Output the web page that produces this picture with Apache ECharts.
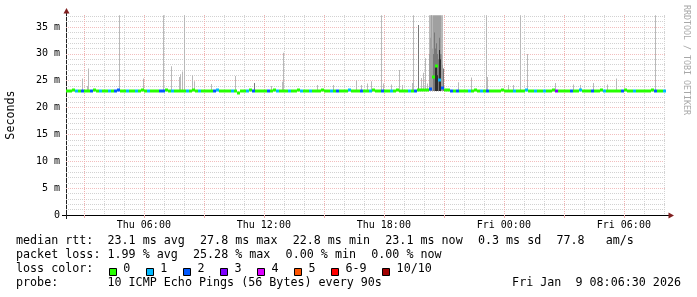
<!DOCTYPE html>
<html><head><meta charset="utf-8">
<script src="https://cdn.jsdelivr.net/npm/echarts@6/dist/echarts.min.js"></script>
<style>html,body{margin:0;padding:0;background:#fff}#c{width:697px;height:297px}</style>
</head><body><div id="c"></div>
<script>
// ---- time frame (hours since Thu 00:00) ----
const startHour = 2 + 6.5 / 60;        // Thu 02:06:30
const endHour = startHour + 30;        // Fri 08:06:30
const stepHours = 0.15;                // 9-minute median samples

// ---- median RTT (ms), one value per 9-minute step ----
const medianRtt = [
  23.1,23.1,23.2,23.1,23.1,23.1,23.0,23.1,23.1,23.2, 23.1,23.1,23.1,23.0,23.1,23.1,23.1,23.2,23.1,23.1,
  23.1,23.0,23.1,23.1,23.1,23.2,23.1,23.1,23.0,23.1, 23.1,23.1,23.1,23.2,23.1,23.0,23.1,23.1,23.1,23.1,
  23.1,23.1,23.2,23.1,23.1,23.0,23.1,23.1,23.1,23.1, 23.2,23.1,23.1,23.1,23.0,23.1,23.1,22.8,23.1,23.1,
  23.1,23.2,23.1,23.1,23.0,23.1,23.1,23.1,23.1,23.2, 23.1,23.1,23.0,23.1,23.1,23.1,23.1,23.2,23.1,23.1,
  23.1,23.0,23.1,23.1,23.1,23.2,23.1,23.1,23.1,23.0, 23.1,23.1,23.1,23.1,23.2,23.1,23.1,23.0,23.1,23.1,
  23.1,23.1,23.2,23.1,23.1,23.1,23.0,23.1,23.1,23.1, 23.2,23.1,23.1,23.1,23.1,23.0,23.1,23.2,23.3,23.2,
  23.3,23.4,25.7,27.8,25.1,23.6,23.3,23.2,23.1,23.1, 23.0,23.1,23.1,23.1,23.1,23.1,23.2,23.1,23.1,23.1,
  23.0,23.1,23.1,23.1,23.1,23.2,23.1,23.1,23.1,23.0, 23.1,23.1,23.1,23.2,23.1,23.1,23.1,23.1,23.0,23.1,
  23.1,23.1,23.2,23.1,23.1,23.1,23.0,23.1,23.1,23.1, 23.1,23.2,23.1,23.0,23.1,23.1,23.1,23.1,23.2,23.1,
  23.1,23.1,23.0,23.1,23.1,23.1,23.2,23.1,23.1,23.1, 23.0,23.1,23.1,23.1,23.1,23.2,23.1,23.0,23.1,23.1
];
// ---- lost pings (of 10) per step ----
const lossCount = [
  0,0,0,1,0,2,0,0,2,0, 0,1,0,0,1,0,2,2,0,0,
  1,0,0,1,0,0,0,1,0,0, 0,2,2,0,0,1,0,0,0,0,
  1,0,0,0,1,0,0,0,0,2, 1,0,0,0,0,1,0,0,0,0,
  1,0,2,0,0,0,0,2,0,0, 1,0,0,0,1,0,0,0,1,0,
  0,1,0,0,0,0,0,0,1,0, 2,0,0,0,1,0,0,0,2,0,
  0,1,0,0,0,2,0,0,1,0, 0,0,0,0,1,0,2,0,0,0,
  0,2,0,0,1,2,0,0,2,0, 2,0,0,0,1,0,0,0,1,0,
  2,0,0,0,0,0,0,0,0,1, 0,0,0,1,0,0,1,0,0,1,
  0,0,0,3,0,0,0,0,2,0, 0,1,0,0,0,2,0,0,0,1,
  0,0,0,0,0,2,0,0,0,1, 0,0,0,0,0,0,2,0,0,1
];
// ---- smoke (outlier pings): time (h), top (ms), shade level ----
const smokeHours = [
  2.91,3.16,3.21,4.76,5.96,6.96,7.36,7.76,7.81,7.91,8.01,8.41,8.51,9.36,10.56,11.51,12.36,12.91,12.96,
  14.66,15.46,16.61,16.86,17.16,17.36,17.86,17.96,18.36,18.76,18.91,19.41,19.46,19.71,19.86,19.96,20.06,20.16,
  20.26,20.26,20.31,20.31,20.36,20.36,20.41,20.41,20.46,20.46,20.51,20.51,
  20.56,20.56,20.56,20.61,20.61,20.61,20.66,20.66,20.66,20.71,20.71,
  20.76,20.76,20.76,20.81,20.81,20.81,20.86,20.86,20.91,20.91,20.96,
  21.71,22.36,23.11,23.16,24.21,24.46,24.81,25.16,26.56,27.46,27.81,28.46,29.16,29.61,31.56
];
const smokeTops = [
  25.4,24.0,27.3,37.2,25.4,37.2,27.7,25.7,26.2,26.7,37.2,26.0,24.9,24.4,25.9,24.6,24.0,24.8,30.2,
  24.2,24.2,25.1,24.2,24.5,24.9,37.2,24.5,24.3,27.0,24.2,24.6,37.2,35.4,25.5,26.5,29.2,24.5,
  37.2,30.0,37.2,33.0,37.2,37.2,37.2,31.0,37.2,30.0,37.2,34.0,
  37.2,31.0,27.5,37.2,32.0,27.9,37.2,30.0,26.0,37.2,29.0,
  37.2,33.0,30.7,37.2,30.0,29.0,37.2,30.0,37.2,28.0,27.3,
  24.7,25.6,37.2,25.7,24.2,24.2,37.2,30.0,24.6,24.3,24.2,24.6,24.3,25.4,37.2
];
const smokeShades = [
  0,0,0,0,0,0,0,0,0,0,0,0,0,0,0,2,0,0,0,
  0,0,0,0,0,0,0,0,0,0,0,0,0,2,0,0,0,0,
  0,1,0,1,0,1,0,1,1,2,1,2,
  1,2,3,1,2,3,1,2,3,1,2,
  1,2,3,1,2,3,0,1,0,1,2,
  0,0,0,0,0,0,0,0,0,0,0,0,0,0,0
];
const smokeBase = 23.1;

// ---- axis ticks ----
const xTickHours = [6, 12, 18, 24, 30];
const xTickLabels = ['Thu 06:00', 'Thu 12:00', 'Thu 18:00', 'Fri 00:00', 'Fri 06:00'];
const yTickValues = [0, 5, 10, 15, 20, 25, 30, 35];
const yTickLabels = ['0', '5 m', '10 m', '15 m', '20 m', '25 m', '30 m', '35 m'];

// ---- legend ----
const lossLabels = ['0', '1', '2', '3', '4', '5', '6-9', '10/10'];
const lossColors = ['#26ff00', '#00b8ff', '#0059ff', '#7e00ff', '#dd00ff', '#ff5500', '#ff0000', '#a10000'];
const rttLine = ['median rtt:  23.1 ms avg', '27.8 ms max', '22.8 ms min', '23.1 ms now', '0.3 ms sd', '77.8   am/s'];
const lossLine = ['packet loss: 1.99 % avg', '25.28 % max', '0.00 % min', '0.00 % now'];
const probeText = 'probe:       10 ICMP Echo Pings (56 Bytes) every 90s';
const dateText = 'Fri Jan  9 08:06:30 2026';

// ---------------------------------------------------------------
const FONT_FAMILY = '"DejaVu Sans Mono", monospace';
const shadeColors = ['#b9b9b9', '#a0a0a0', '#787878', '#2e2e2e'];
function lossColorIndex(n) { return n <= 5 ? n : (n < 10 ? 6 : 7); }

const medianData = medianRtt.map((v, i) => [startHour + i * stepHours, v, lossCount[i]]);
const smokeData = smokeHours.map((h, i) => [h, smokeTops[i], smokeShades[i]])
  .sort((a, b) => a[2] - b[2]);

const range = (a, b, s) => { const r = []; for (let v = a; v <= b; v += s) r.push(v); return r; };
const minorX = range(3, 32, 1).filter(h => h % 3 !== 0);
const majorX = range(3, 30, 3);
const minorY = range(1, 37, 1).filter(v => v % 5 !== 0);
const majorY = range(5, 35, 5);

const yMax = 37.24;
const minorColor = '#d2d2d2';
const majorColor = '#efb0b0';
const majorColorH = '#f2bebe';

function gridX(extra) {
  return Object.assign({
    type: 'value', min: startHour, max: endHour, position: 'bottom', gridIndex: 0,
    axisLine: { show: false }, axisTick: { show: false }, axisLabel: { show: false }, splitLine: { show: false }
  }, extra);
}
function gridY(extra) {
  return Object.assign({
    type: 'value', min: 0, max: yMax, position: 'left', gridIndex: 0,
    axisLine: { show: false }, axisTick: { show: false }, axisLabel: { show: false }, splitLine: { show: false }
  }, extra);
}

// legend layout
const CW = 7.03, GAP = 15.3, LX = 16;
const legendFont = '11.7px ' + FONT_FAMILY;
const graphics = [];
function addText(txt, x, y, extra) {
  graphics.push(Object.assign({
    type: 'text', x: x, y: y, silent: true,
    style: Object.assign({ text: txt, font: legendFont, fill: '#000', align: 'left', verticalAlign: 'middle' }, extra || {})
  }));
}
function addLine(items, y) {
  let x = LX;
  items.forEach(t => { addText(t, x, y); x += t.length * CW + GAP; });
}
addLine(rttLine, 240.6);
addLine(lossLine, 254.7);
addText('loss color:', LX, 268.8);
(function () {
  let x = LX + 11 * CW + GAP;
  lossLabels.forEach((lab, i) => {
    graphics.push({ type: 'rect', silent: true, shape: { x: Math.round(x) + 0.5, y: 268.5, width: 7, height: 7 },
      style: { fill: lossColors[i], stroke: '#000', lineWidth: 1 } });
    addText(lab, x + 14.7, 268.8);
    x += 14.7 + lab.length * CW + GAP;
  });
})();
addText(probeText, LX, 282.9);
addText(dateText, 681, 282.9, { align: 'right' });

// axes decorations
graphics.push({ type: 'line', silent: true, shape: { x1: 62, y1: 215.5, x2: 670, y2: 215.5 }, style: { stroke: '#000', lineWidth: 1 } });
graphics.push({ type: 'line', silent: true, shape: { x1: 66.5, y1: 219, x2: 66.5, y2: 12 }, style: { stroke: '#202020', lineWidth: 1 } });
graphics.push({ type: 'polygon', silent: true, shape: { points: [[63.5, 13.5], [69.5, 13.5], [66.5, 8]] }, style: { fill: '#801f1f' } });
graphics.push({ type: 'polygon', silent: true, shape: { points: [[668.5, 212.5], [668.5, 218.5], [674, 215.5]] }, style: { fill: '#801f1f' } });
// axis title and watermark
graphics.push({ type: 'text', x: 10.5, y: 115, rotation: Math.PI / 2, silent: true,
  style: { text: 'Seconds', font: legendFont, fill: '#000', align: 'center', verticalAlign: 'middle' } });
graphics.push({ type: 'text', x: 686.3, y: 60, rotation: -Math.PI / 2, silent: true,
  style: { text: 'RRDTOOL / TOBI OETIKER', font: '8.3px ' + FONT_FAMILY, fill: '#a8a8a8', align: 'center', verticalAlign: 'middle' } });

const option = {
  backgroundColor: '#ffffff',
  animation: false,
  grid: { left: 66, top: 15, width: 600, height: 200, containLabel: false },
  xAxis: [
    gridX({}),
    gridX({ axisTick: { show: false, customValues: minorX },
            splitLine: { show: true, lineStyle: { color: minorColor, width: 1, type: [1, 1] } } }),
    gridX({ axisTick: { show: true, customValues: majorX, length: 3, lineStyle: { color: majorColor } },
            splitLine: { show: true, lineStyle: { color: majorColor, width: 1, type: [1, 1] } } }),
    gridX({ axisLabel: { show: true, customValues: xTickHours, margin: 5,
            fontFamily: FONT_FAMILY, fontSize: 10, color: '#000',
            formatter: v => xTickLabels[xTickHours.indexOf(Math.round(v))] } })
  ],
  yAxis: [
    gridY({}),
    gridY({ axisTick: { show: false, customValues: minorY },
            splitLine: { show: true, lineStyle: { color: minorColor, width: 1, type: [1, 1] } } }),
    gridY({ axisTick: { show: false, customValues: majorY },
            splitLine: { show: true, lineStyle: { color: majorColorH, width: 1, type: [1, 1] } },
            axisLabel: { show: true, customValues: yTickValues, margin: 6,
              fontFamily: FONT_FAMILY, fontSize: 10, color: '#000',
              formatter: v => yTickLabels[yTickValues.indexOf(Math.round(v))] } })
  ],
  series: [
    {
      type: 'custom', name: 'smoke', xAxisIndex: 0, yAxisIndex: 0, data: smokeData, z: 3,
      renderItem: (params, api) => {
        const top = api.coord([api.value(0), api.value(1)]);
        const bot = api.coord([api.value(0), smokeBase]);
        return { type: 'rect', shape: { x: Math.floor(top[0]), y: top[1], width: 1, height: bot[1] - top[1] },
          style: { fill: shadeColors[api.value(2)] } };
      }
    },
    {
      type: 'custom', name: 'median', xAxisIndex: 0, yAxisIndex: 0, data: medianData, z: 4,
      renderItem: (params, api) => {
        const c = api.coord([api.value(0), api.value(1)]);
        const c2 = api.coord([api.value(0) + stepHours, api.value(1)]);
        const x0 = Math.round(c[0]), x1 = Math.round(c2[0]);
        return { type: 'rect', shape: { x: x0, y: Math.round(c[1]) - 1.5, width: x1 - x0, height: 3 },
          style: { fill: lossColors[lossColorIndex(api.value(2))] } };
      }
    }
  ],
  graphic: graphics
};
const chart = echarts.init(document.getElementById('c'), null, { renderer: 'canvas', width: 697, height: 297 });
chart.setOption(option);
</script>
</body></html>
